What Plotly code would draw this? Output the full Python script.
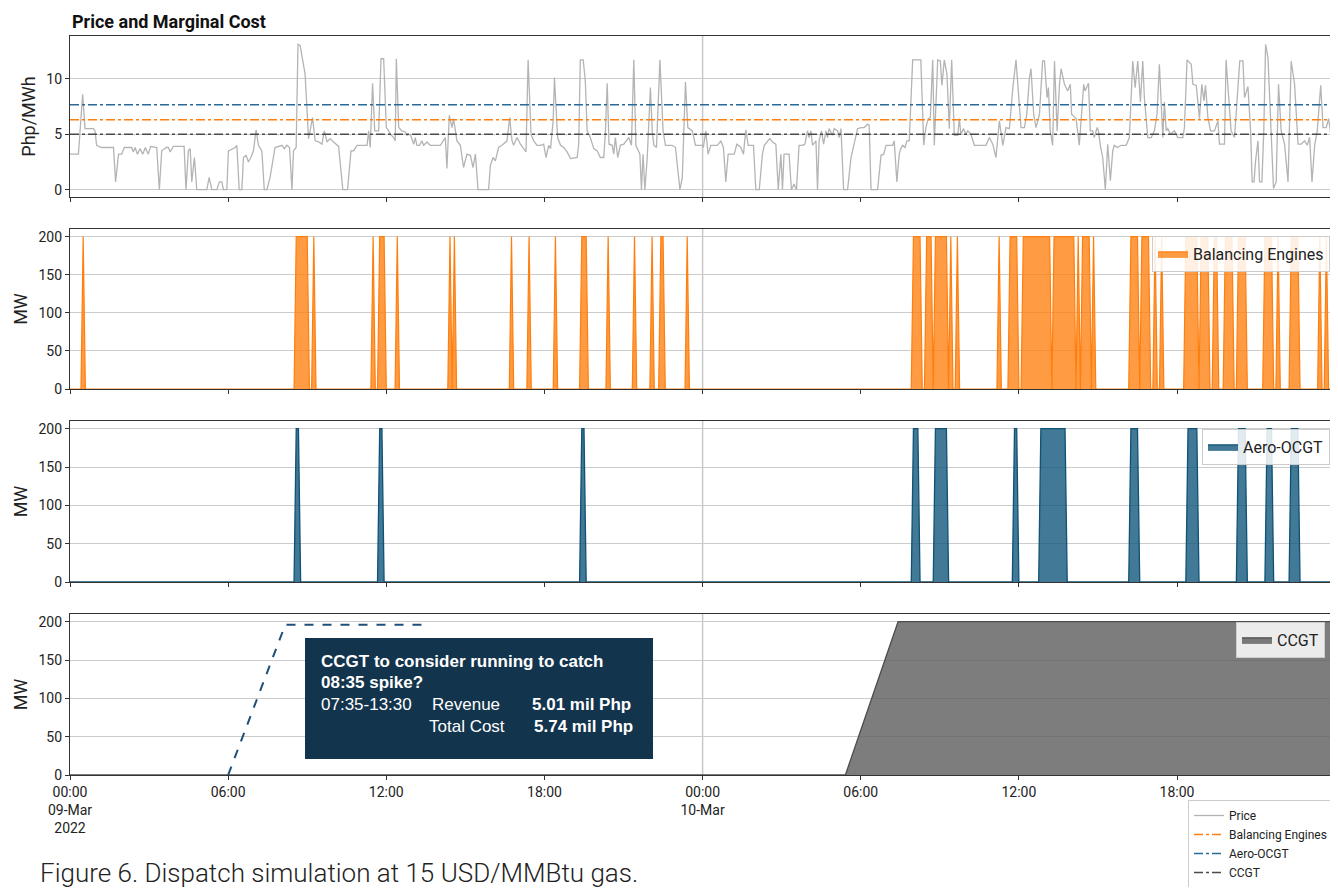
import pandas as pd
import plotly.graph_objects as go

# ---------------- data ----------------
START = "2022-03-09 00:00"
END = "2022-03-10 23:55"

# price readings: (hours since 09-Mar 00:00, Php/MWh)
price_day1 = [
    (0.00, 3.2), (0.32, 3.2), (0.48, 8.6), (0.57, 5.5), (0.89, 5.5), (0.95, 5.3), (1.01, 4.0), (1.20, 3.8), (1.65, 3.8), (1.73, 0.7),
    (1.84, 3.2), (1.96, 3.2), (2.06, 3.8), (2.34, 3.8), (2.40, 3.4), (2.47, 3.8), (2.56, 3.2), (2.66, 3.7), (2.76, 3.2), (2.86, 3.8),
    (2.97, 3.2), (3.06, 3.9), (3.29, 3.8), (3.39, 0.0), (3.48, 3.5), (3.65, 3.8), (3.73, 3.8), (3.80, 3.4), (3.92, 3.9), (4.33, 3.9),
    (4.40, 0.0), (4.49, 3.5), (4.56, 3.7), (4.62, 0.7), (4.72, 2.9), (4.81, 0.0), (5.19, 0.0), (5.28, 1.1), (5.38, 0.0), (5.57, 0.0),
    (5.67, 0.7), (5.76, 0.7), (5.82, 0.0), (5.95, 0.0), (6.01, 3.5), (6.27, 3.8), (6.33, 4.0), (6.42, 0.0), (6.52, 0.0), (6.58, 2.9),
    (6.68, 3.1), (6.77, 2.5), (6.86, 2.9), (6.96, 3.5), (7.06, 5.4), (7.15, 4.0), (7.28, 3.5), (7.37, 0.0), (7.47, 0.0), (7.59, 1.1),
    (7.78, 3.8), (8.04, 4.0), (8.13, 3.7), (8.23, 4.0), (8.33, 3.8), (8.42, 0.0), (8.48, 3.5), (8.58, 3.8), (8.65, 13.1), (8.73, 13.0),
    (8.92, 10.4), (9.05, 4.6), (9.11, 5.3), (9.20, 6.5), (9.30, 4.4), (9.43, 4.3), (9.56, 4.1), (9.65, 5.3), (9.75, 4.3), (9.87, 4.6),
    (10.00, 4.3), (10.19, 3.9), (10.35, 0.0), (10.53, 0.0), (10.66, 3.5), (10.76, 3.5), (10.89, 4.0), (11.27, 4.0), (11.33, 5.3), (11.39, 3.8),
    (11.48, 9.6), (11.56, 5.3), (11.71, 5.3), (11.80, 11.8), (11.90, 11.8), (12.00, 5.6), (12.09, 5.3), (12.15, 5.0), (12.28, 4.7), (12.34, 4.4),
    (12.38, 11.8), (12.47, 5.6), (12.59, 5.3), (12.72, 5.2), (12.78, 4.9), (12.91, 5.0), (13.04, 4.1), (13.10, 4.7), (13.16, 4.0), (13.26, 4.0),
    (13.35, 4.4), (13.42, 4.0), (13.54, 4.3), (13.67, 4.0), (14.05, 4.0), (14.15, 4.4), (14.24, 4.7), (14.30, 1.9), (14.39, 6.7), (14.49, 5.6),
    (14.55, 6.4), (14.68, 4.4), (14.81, 4.0), (14.93, 2.0), (15.06, 3.2), (15.19, 3.1), (15.29, 2.0), (15.38, 3.2), (15.48, 0.0), (15.88, 0.0),
    (15.95, 2.2), (16.05, 2.9), (16.14, 2.6), (16.26, 3.8), (16.39, 4.0), (16.58, 4.4), (16.68, 6.5), (16.77, 4.4), (16.83, 4.0), (16.96, 4.7),
    (17.09, 4.1), (17.21, 3.7), (17.30, 3.4), (17.38, 11.7), (17.49, 5.0), (17.59, 4.4), (17.72, 4.0), (17.85, 4.0), (17.97, 4.1), (18.06, 2.9),
    (18.16, 4.0), (18.23, 3.7), (18.33, 6.2), (18.38, 10.1), (18.45, 6.5), (18.50, 4.7), (18.61, 4.0), (18.73, 3.8), (18.86, 3.4), (18.99, 2.8),
    (19.24, 2.9), (19.30, 4.1), (19.36, 11.7), (19.47, 11.7), (19.55, 9.8), (19.62, 5.3), (19.74, 4.7), (19.87, 3.7), (20.00, 3.5), (20.12, 2.9),
    (20.25, 2.9), (20.31, 5.0), (20.38, 9.6), (20.45, 4.1), (20.57, 4.0), (20.63, 3.2), (20.69, 4.7), (20.78, 2.9), (20.88, 4.0), (21.01, 4.1),
    (21.20, 4.7), (21.30, 4.0), (21.39, 11.7), (21.47, 4.0), (21.62, 3.2), (21.68, 0.0), (21.74, 3.2), (21.81, 0.0), (21.90, 2.9), (22.02, 9.2),
    (22.09, 5.3), (22.15, 4.0), (22.25, 3.8), (22.38, 11.7), (22.50, 5.3), (22.59, 4.0), (22.72, 4.0), (22.85, 4.0), (22.97, 3.8), (23.04, 2.3),
    (23.14, 0.0), (23.23, 1.1), (23.35, 9.7), (23.44, 5.6), (23.61, 5.3), (23.73, 4.0), (23.99, 4.0),
]
price_day2 = [
    (24.03, 3.8), (24.12, 5.3), (24.21, 3.2), (24.31, 4.0), (24.56, 4.0), (24.69, 4.4), (24.79, 3.8), (24.88, 0.7), (24.97, 3.2), (25.20, 3.2),
    (25.30, 4.1), (25.45, 3.8), (25.55, 3.2), (25.64, 5.4), (25.73, 4.0), (25.93, 4.0), (26.02, 0.0), (26.15, 0.0), (26.27, 3.2), (26.34, 4.0),
    (26.55, 4.6), (26.65, 4.3), (26.78, 4.1), (26.87, 0.0), (26.97, 3.2), (27.03, 0.0), (27.09, 3.2), (27.28, 3.2), (27.37, 0.0), (27.47, 0.5),
    (27.56, 0.0), (27.66, 4.0), (27.79, 4.0), (27.88, 4.1), (27.98, 5.3), (28.04, 4.7), (28.11, 5.3), (28.17, 4.0), (28.30, 4.4), (28.36, 0.0),
    (28.42, 4.4), (28.51, 5.3), (28.59, 4.1), (28.68, 5.3), (28.74, 4.7), (28.80, 5.5), (28.93, 4.9), (28.99, 5.5), (29.12, 5.3), (29.18, 4.7),
    (29.25, 5.5), (29.35, 0.0), (29.50, 0.0), (29.63, 2.9), (29.88, 5.5), (30.01, 5.6), (30.13, 5.6), (30.26, 5.9), (30.32, 5.8), (30.39, 0.0),
    (30.64, 0.0), (30.77, 3.1), (30.87, 3.2), (30.96, 4.0), (31.21, 4.0), (31.27, 4.4), (31.37, 0.7), (31.46, 3.2), (31.52, 3.7), (31.59, 4.0),
    (31.68, 3.8), (31.75, 4.4), (31.84, 4.4), (31.97, 11.7), (32.16, 11.7), (32.28, 11.7), (32.39, 4.0), (32.47, 5.6), (32.56, 6.4), (32.64, 6.5),
    (32.73, 11.7), (32.79, 4.0), (32.92, 11.7), (33.02, 11.6), (33.08, 9.4), (33.17, 11.7), (33.27, 10.4), (33.36, 5.5), (33.45, 11.7), (33.55, 4.9),
    (33.68, 4.9), (33.74, 6.4), (33.80, 5.0), (33.90, 5.5), (33.99, 5.0), (34.06, 5.3), (34.18, 5.0), (34.31, 4.0), (34.50, 4.0), (34.75, 4.0),
    (34.88, 4.7), (35.01, 4.1), (35.13, 2.9), (35.26, 6.2), (35.39, 4.0), (35.51, 5.6), (35.64, 5.5), (35.77, 9.2), (35.89, 11.7), (36.02, 7.1),
    (36.08, 5.6), (36.21, 5.6), (36.30, 6.8), (36.40, 10.1), (36.46, 10.9), (36.56, 6.8), (36.65, 5.6), (36.78, 6.8), (36.90, 11.6), (36.97, 11.6),
    (37.07, 8.3), (37.12, 9.2), (37.19, 5.3), (37.28, 4.0), (37.35, 11.6), (37.45, 5.3), (37.54, 9.5), (37.60, 10.9), (37.73, 9.5), (37.85, 8.9),
    (37.95, 9.5), (38.00, 6.8), (38.17, 6.4), (38.29, 4.0), (38.36, 6.2), (38.46, 9.5), (38.51, 8.9), (38.59, 9.4), (38.64, 9.6), (38.71, 5.3),
    (38.80, 5.3), (38.86, 4.7), (38.97, 5.6), (39.02, 5.3), (39.09, 4.0), (39.18, 2.9), (39.28, 0.0), (39.37, 4.1), (39.47, 0.8), (39.56, 3.5),
    (39.62, 4.0), (39.73, 3.8), (39.88, 4.0), (40.07, 4.0), (40.19, 4.7), (40.32, 11.6), (40.41, 9.2), (40.51, 11.6), (40.61, 7.9), (40.70, 11.6),
    (40.76, 8.3), (40.89, 4.7), (41.02, 4.7), (41.14, 5.3), (41.24, 6.8), (41.33, 11.3), (41.40, 7.1), (41.46, 4.7), (41.52, 7.9), (41.59, 5.3),
    (41.65, 5.5), (41.75, 5.0), (41.90, 5.3), (42.03, 4.7), (42.22, 4.7), (42.28, 5.6), (42.38, 11.7), (42.54, 11.3), (42.60, 9.5), (42.73, 9.4),
    (42.85, 6.4), (42.94, 9.5), (43.02, 8.0), (43.08, 9.4), (43.17, 6.5), (43.27, 5.3), (43.42, 5.3), (43.55, 6.2), (43.61, 4.1), (43.80, 4.1),
    (43.86, 11.7), (43.95, 8.3), (44.05, 5.3), (44.18, 4.7), (44.31, 9.5), (44.38, 11.6), (44.50, 11.6), (44.56, 8.3), (44.69, 9.3), (44.79, 5.3),
    (44.85, 0.7), (44.92, 0.7), (44.98, 2.6), (45.07, 4.4), (45.13, 0.7), (45.22, 0.7), (45.29, 5.3), (45.36, 13.1), (45.45, 11.9), (45.57, 4.4),
    (45.66, 0.1), (45.76, 0.7), (45.85, 9.5), (45.95, 5.3), (46.08, 4.1), (46.21, 0.7), (46.33, 11.6), (46.46, 9.5), (46.59, 4.1), (46.71, 4.1),
    (46.84, 4.4), (46.94, 4.0), (47.03, 4.7), (47.12, 0.7), (47.22, 4.0), (47.32, 5.3), (47.45, 9.4), (47.54, 5.6), (47.66, 5.6), (47.75, 6.4),
    (47.85, 4.7), (47.92, 5.0),
]

mc_names = ["Balancing Engines", "Aero-OCGT", "CCGT"]
mc_values = [6.3, 7.66, 5.0]

unit_mw = 200  # dispatch level when a unit is on

# on-periods (first and last 5-min interval at full output)
be_on = [
    ("03-09 00:30", "03-09 00:30"), ("03-09 08:35", "03-09 09:00"), ("03-09 09:15", "03-09 09:15"),
    ("03-09 11:30", "03-09 11:30"), ("03-09 11:45", "03-09 11:55"), ("03-09 12:25", "03-09 12:25"),
    ("03-09 14:25", "03-09 14:25"), ("03-09 14:35", "03-09 14:35"), ("03-09 16:45", "03-09 16:45"),
    ("03-09 17:25", "03-09 17:25"), ("03-09 18:25", "03-09 18:25"), ("03-09 19:25", "03-09 19:35"),
    ("03-09 20:25", "03-09 20:25"), ("03-09 21:25", "03-09 21:25"), ("03-09 22:05", "03-09 22:05"),
    ("03-09 22:25", "03-09 22:30"), ("03-09 23:25", "03-09 23:25"),
    ("03-10 08:00", "03-10 08:15"), ("03-10 08:30", "03-10 08:40"), ("03-10 08:50", "03-10 09:15"),
    ("03-10 09:25", "03-10 09:25"), ("03-10 09:40", "03-10 09:40"), ("03-10 11:15", "03-10 11:15"),
    ("03-10 11:40", "03-10 11:55"), ("03-10 12:10", "03-10 13:10"), ("03-10 13:20", "03-10 14:05"),
    ("03-10 14:15", "03-10 14:15"), ("03-10 14:25", "03-10 14:40"), ("03-10 14:50", "03-10 14:50"),
    ("03-10 16:15", "03-10 16:30"), ("03-10 16:40", "03-10 16:55"), ("03-10 17:10", "03-10 17:10"),
    ("03-10 17:25", "03-10 17:25"), ("03-10 18:20", "03-10 18:45"), ("03-10 18:55", "03-10 19:10"),
    ("03-10 19:25", "03-10 19:30"), ("03-10 19:50", "03-10 20:05"), ("03-10 20:20", "03-10 20:35"),
    ("03-10 21:20", "03-10 21:35"), ("03-10 21:50", "03-10 21:50"), ("03-10 22:20", "03-10 22:35"),
    ("03-10 23:25", "03-10 23:25"), ("03-10 23:40", "03-10 23:40"),
]
aero_on = [
    ("03-09 08:35", "03-09 08:40"), ("03-09 11:45", "03-09 11:50"), ("03-09 19:25", "03-09 19:30"),
    ("03-10 08:00", "03-10 08:10"), ("03-10 08:50", "03-10 09:15"), ("03-10 11:50", "03-10 11:55"),
    ("03-10 12:50", "03-10 13:45"), ("03-10 16:15", "03-10 16:30"), ("03-10 18:25", "03-10 18:45"),
    ("03-10 20:20", "03-10 20:35"), ("03-10 21:25", "03-10 21:35"), ("03-10 22:20", "03-10 22:35"),
]
ccgt_times = ["2022-03-09 00:00", "2022-03-10 05:25", "2022-03-10 07:25", "2022-03-10 23:55"]
ccgt_mw = [0, 0, 200, 200]

hypo_times = ["2022-03-09 06:00", "2022-03-09 08:10", "2022-03-09 13:20"]
hypo_mw = [0, 196, 196]

tick_times = pd.date_range(START, END, freq="6h")
tick_text = ["00:00<br>09-Mar<br>2022", "06:00", "12:00", "18:00",
             "00:00<br>10-Mar", "06:00", "12:00", "18:00"]

# ---------------- build series ----------------
t0 = pd.Timestamp(START)
price_pts = price_day1 + price_day2
price_x = [t0 + pd.Timedelta(hours=h) for h, _ in price_pts]
price_y = [v for _, v in price_pts]

idx = pd.date_range(START, END, freq="5min")


def on_series(periods):
    s = pd.Series(0.0, index=idx)
    for a, b in periods:
        s[pd.Timestamp("2022-" + a):pd.Timestamp("2022-" + b)] = unit_mw
    return s


be = on_series(be_on)
aero = on_series(aero_on)

# ---------------- figure ----------------
OFF = 8  # page body margin
W, H = 1338 - OFF, 895 - 2 * OFF
FONT = "Roboto, 'Liberation Sans', Arial, sans-serif"


def px(v):
    return (v - OFF) / W


def py(v):
    return 1 - (v - OFF) / H


xdom = [px(70), px(1333)]
ydoms = [[py(197), py(36)], [py(389), py(229)], [py(582), py(421)], [py(775), py(614)]]

fig = go.Figure()

mc_colors = ["#ff7f0e", "#2a6a98", "#4a4a4a"]

fig.add_trace(go.Scatter(x=price_x, y=price_y, mode="lines", name="Price",
                         line=dict(color="#b4b4b4", width=1.3), xaxis="x", yaxis="y",
                         legend="legend"))
for n, v, c in zip(mc_names, mc_values, mc_colors):
    fig.add_trace(go.Scatter(x=[START, END], y=[v, v], mode="lines", name=n,
                             line=dict(color=c, width=1.4, dash="dashdot"),
                             xaxis="x", yaxis="y", legend="legend"))

fig.add_trace(go.Scatter(x=be.index, y=be.values, mode="lines", name="Balancing Engines",
                         fill="tozeroy", fillcolor="rgba(255,127,14,0.78)",
                         line=dict(color="#ff7f0e", width=1.2), xaxis="x2", yaxis="y2",
                         legend="legend2"))
fig.add_trace(go.Scatter(x=aero.index, y=aero.values, mode="lines", name="Aero-OCGT",
                         fill="tozeroy", fillcolor="rgba(18,88,124,0.8)",
                         line=dict(color="#0f5275", width=1.3), xaxis="x3", yaxis="y3",
                         legend="legend3"))
fig.add_trace(go.Scatter(x=ccgt_times, y=ccgt_mw, mode="lines", name="CCGT",
                         fill="tozeroy", fillcolor="rgba(92,92,92,0.8)",
                         line=dict(color="#4d4d4d", width=1.3), xaxis="x4", yaxis="y4",
                         legend="legend4"))
fig.add_trace(go.Scatter(x=hypo_times, y=hypo_mw, mode="lines", showlegend=False,
                         line=dict(color="#1d4f7a", width=2, dash="dash"),
                         xaxis="x4", yaxis="y4"))

axis_common = dict(showline=True, linecolor="#333333", linewidth=1.2, mirror=True,
                   ticks="outside", ticklen=4, tickcolor="#333333", automargin=False,
                   tickfont=dict(family=FONT, size=14, color="#222222"), zeroline=False)

for i in range(4):
    sfx = "" if i == 0 else str(i + 1)
    xa = dict(axis_common)
    xa.update(domain=xdom, anchor="y" + sfx, range=[START, END], type="date",
              tickvals=list(tick_times), ticktext=tick_text, showgrid=False,
              showticklabels=(i == 3))
    if i > 0:
        xa["matches"] = "x"
    ya = dict(axis_common)
    if i == 0:
        ya.update(range=[-0.66, 13.85], tickvals=[0, 5, 10])
        title = "Php/MWh"
    else:
        ya.update(range=[0, 210], tickvals=[0, 50, 100, 150, 200])
        title = "MW"
    ya.update(domain=ydoms[i], anchor="x" + sfx, showgrid=True, gridcolor="#cccccc",
              gridwidth=1,
              title=dict(text=title, font=dict(family=FONT, size=18, color="#222222"),
                         standoff=6))
    fig.layout["xaxis" + sfx] = xa
    fig.layout["yaxis" + sfx] = ya

# vertical day gridline
shapes = []
for i in range(4):
    sfx = "" if i == 0 else str(i + 1)
    shapes.append(dict(type="line", xref="x" + sfx, yref="y" + sfx + " domain",
                       x0="2022-03-10 00:00", x1="2022-03-10 00:00", y0=0, y1=1,
                       line=dict(color="#c8c8c8", width=1.5), layer="below"))
# annotation box
shapes.append(dict(type="rect", xref="paper", yref="paper",
                   x0=px(305), x1=px(653), y0=py(759), y1=py(638),
                   fillcolor="#12344c", line=dict(width=0), layer="above"))

ann_font = "'Liberation Sans', Arial, sans-serif"


def box_text(text, x, y):
    return dict(text=text, x=px(x), y=py(y), xref="paper", yref="paper",
                xanchor="left", yanchor="middle", showarrow=False,
                font=dict(family=ann_font, size=17, color="white"))


annotations = [
    dict(text="<b>Price and Marginal Cost</b>", x=px(70), y=py(21), xref="paper", yref="paper",
         xanchor="left", yanchor="middle", showarrow=False,
         font=dict(family=FONT, size=18, color="#111111")),
    box_text("<b>CCGT to consider running to catch</b>", 319, 661),
    box_text("<b>08:35 spike?</b>", 319, 682),
    box_text("07:35-13:30", 319, 704),
    box_text("Revenue", 430, 704),
    box_text("<b>5.01 mil Php</b>", 530, 704),
    box_text("Total Cost", 427, 726),
    box_text("<b>5.74 mil Php</b>", 532, 726),
    dict(text="Figure 6. Dispatch simulation at 15 USD/MMBtu gas.", x=px(38), y=py(873),
         xref="paper", yref="paper", xanchor="left", yanchor="middle", showarrow=False,
         font=dict(family=FONT, size=26, color="#222222", weight=300)),
]

leg_common = dict(bgcolor="rgba(255,255,255,0.85)", bordercolor="#cccccc", borderwidth=1,
                  xanchor="right", yanchor="top", xref="paper", yref="paper")
fig.update_layout(
    width=W, height=H, template="none",
    margin=dict(l=0, r=0, t=0, b=0, autoexpand=False),
    paper_bgcolor="white", plot_bgcolor="white",
    font=dict(family=FONT, color="#222222"),
    shapes=shapes, annotations=annotations,
    legend=dict(x=px(1333), y=py(800), font=dict(size=12, family=FONT),
                tracegroupgap=0, itemwidth=30, **leg_common),
    legend2=dict(x=px(1330), y=py(236), font=dict(size=16, family=FONT), **leg_common),
    legend3=dict(x=px(1330), y=py(429), font=dict(size=16, family=FONT), **leg_common),
    legend4=dict(x=px(1325), y=py(622), font=dict(size=16, family=FONT), **leg_common),
)

fig.write_html("out.html")
